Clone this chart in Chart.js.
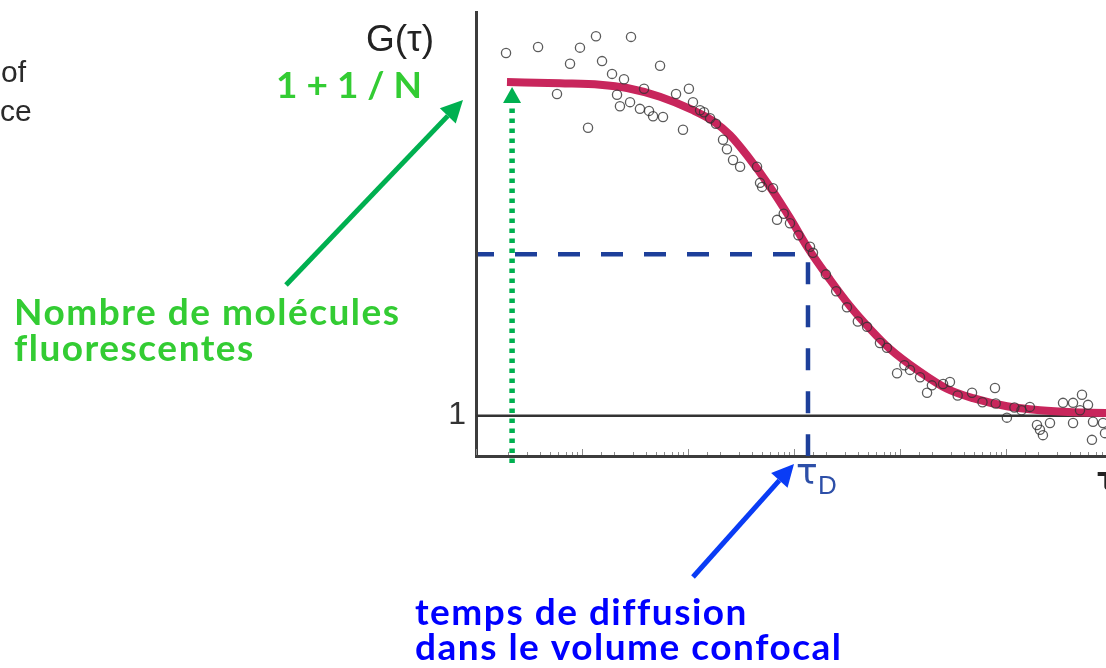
<!DOCTYPE html>
<html>
<head>
<meta charset="utf-8">
<script src="https://cdn.jsdelivr.net/npm/chart.js@4.4.1/dist/chart.umd.min.js"></script>
<style>
  html, body { margin: 0; padding: 0; background: #fff; overflow: hidden; width: 1106px; height: 668px; }
  canvas { display: block; }
</style>
</head>
<body>
<canvas id="fcs" width="1180" height="668"></canvas>
<script>
// Measured autocorrelation G(τ) (open circles)
const measTau = [
  1.92e-4, 3.85e-4, 9.57e-4, 1.355e-3, 2.90e-3, 7.71e-4, 1.545e-3, 5.45e-3, 1.92e-3, 2.49e-3,
  5.81e-4, 1.14e-3, 1.02e-2, 7.71e-3, 8.97e-3, 3.85e-3, 2.14e-3, 2.28e-3, 2.84e-3, 3.52e-3,
  4.29e-3, 4.68e-3, 5.81e-3, 1.114e-2, 1.30e-2, 1.416e-2, 1.615e-2, 1.835e-2, 2.14e-2, 2.33e-2,
  2.66e-2, 3.10e-2, 4.48e-2, 4.78e-2, 6.34e-2, 6.92e-2, 9.16e-2, 0.1416, 0.151, 0.316,
  0.489, 0.647, 0.753, 0.938, 1.243, 1.545, 1.80, 2.55, 2.96, 4.78,
  7.87, 10.2, 16.8, 19.6, 20.9, 22.3, 26.0, 34.5, 42.9, 52.1,
  59.4, 49.9, 42.9, 66.2, 64.7, 82.2, 85.9,
  0.05, 0.08, 0.11, 0.2, 0.25, 0.4, 1.1, 2.0, 3.5, 6.0, 8.0, 12.0, 14.0
];
const measG = [
  1.539, 1.548, 1.547, 1.564, 1.563, 1.523, 1.527, 1.520, 1.508, 1.500,
  1.478, 1.428, 1.486, 1.478, 1.425, 1.486, 1.477, 1.460, 1.466, 1.456,
  1.453, 1.445, 1.444, 1.466, 1.454, 1.451, 1.442, 1.434, 1.410, 1.396,
  1.380, 1.370, 1.370, 1.346, 1.338, 1.291, 1.286, 1.251, 1.242, 1.161,
  1.132, 1.108, 1.101, 1.063, 1.068, 1.057, 1.034, 1.047, 1.050, 1.034,
  1.041, 0.997, 1.013, 0.986, 0.979, 0.971, 0.989, 1.019, 1.019, 1.031,
  1.016, 1.008, 0.989, 0.991, 0.964, 0.989, 0.974,
  1.340, 1.300, 1.268, 1.210, 1.185, 1.140, 1.075, 1.045, 1.030, 1.020, 1.018, 1.012, 1.008
];

// Fitted autocorrelation curve
const fitTau = [
  1.96e-4, 6.20e-4, 1.479e-3, 2.66e-3, 5.44e-3, 1.114e-2, 1.72e-2, 2.49e-2, 3.60e-2, 5.94e-2,
  9.16e-2, 0.1355, 0.219, 0.337, 0.521, 0.805, 1.545, 2.77, 4.88, 10.2,
  20.9, 42.9, 87.8, 100
];
const fitG = [
  1.496, 1.494, 1.492, 1.487, 1.474, 1.454, 1.438, 1.417, 1.387, 1.340,
  1.294, 1.249, 1.202, 1.163, 1.129, 1.099, 1.065, 1.040, 1.026, 1.014,
  1.008, 1.005, 1.004, 1.004
];

// Characteristic values
const tauD = 0.1355;      // diffusion time through the confocal volume
const gHalf = 1.24;       // G(τD)
const tauStart = 2.19e-4; // first lag time
const gZero = 1.496;      // 1 + 1/N

// Axis settings
const xRange = [1e-4, 1e2];
const yRange = [0.94, 1.6];
const yTicks = [1];

function arrow(ctx, x1, y1, x2, y2, color, width, headLen, headHalf) {
  const ang = Math.atan2(y2 - y1, x2 - x1);
  const bx = x2 - headLen * Math.cos(ang), by = y2 - headLen * Math.sin(ang);
  ctx.save();
  ctx.strokeStyle = color; ctx.fillStyle = color; ctx.lineWidth = width;
  ctx.beginPath(); ctx.moveTo(x1, y1); ctx.lineTo(bx, by); ctx.stroke();
  ctx.beginPath();
  ctx.moveTo(x2, y2);
  ctx.lineTo(bx + headHalf * Math.sin(ang), by - headHalf * Math.cos(ang));
  ctx.lineTo(bx - headHalf * Math.sin(ang), by + headHalf * Math.cos(ang));
  ctx.closePath(); ctx.fill();
  ctx.restore();
}

const annotations = {
  id: 'annotations',
  beforeDatasetsDraw(chart) {
    const { ctx, chartArea: a, scales: { x, y } } = chart;
    ctx.save();
    // small inward tick marks on the lag-time axis
    ctx.strokeStyle = '#8c8c8c';
    ctx.lineWidth = 1;
    x.ticks.forEach(t => {
      const px = Math.round(x.getPixelForValue(t.value)) + 0.5;
      const len = t.major ? 7 : 4;
      ctx.beginPath(); ctx.moveTo(px, a.bottom - 1); ctx.lineTo(px, a.bottom - len); ctx.stroke();
    });
    // dashed guides through (τD, G(τD))
    const xd = x.getPixelForValue(tauD), yh = y.getPixelForValue(gHalf);
    ctx.strokeStyle = '#1d3f9a';
    ctx.lineWidth = 4.5;
    ctx.setLineDash([22, 21]);
    ctx.lineDashOffset = 6;
    ctx.beginPath(); ctx.moveTo(a.left + 2, yh); ctx.lineTo(xd, yh); ctx.lineTo(xd, a.bottom); ctx.stroke();
    // dotted marker at the first lag time
    const xs = x.getPixelForValue(tauStart), ytop = y.getPixelForValue(gZero) + 5;
    ctx.strokeStyle = '#00b050';
    ctx.lineWidth = 5.5;
    ctx.setLineDash([4.5, 5.5]);
    ctx.lineDashOffset = 0;
    ctx.beginPath(); ctx.moveTo(xs, a.bottom + 7); ctx.lineTo(xs, ytop + 16); ctx.stroke();
    ctx.setLineDash([]);
    ctx.fillStyle = '#00b050';
    ctx.beginPath(); ctx.moveTo(xs, ytop); ctx.lineTo(xs - 9, ytop + 16); ctx.lineTo(xs + 9, ytop + 16); ctx.closePath(); ctx.fill();
    ctx.restore();
  },
  afterDraw(chart) {
    const { ctx, scales: { x } } = chart;
    ctx.save();
    ctx.textBaseline = 'alphabetic';
    ctx.textAlign = 'left';
    // axis titles
    ctx.fillStyle = '#222';
    ctx.font = '37px "Liberation Sans", Arial, sans-serif';
    ctx.fillText('G(τ)', 366, 51);
    ctx.font = 'bold 32px "DejaVu Sans", sans-serif';
    ctx.fillText('τ', 1097, 490);
    // τD label
    const xd = x.getPixelForValue(tauD);
    ctx.fillStyle = '#2d4fa8';
    ctx.font = '36px "DejaVu Sans", sans-serif';
    ctx.fillText('τ', xd - 12, 484);
    ctx.font = '26px "Liberation Sans", Arial, sans-serif';
    ctx.fillText('D', xd + 10, 494);
    // fragments of neighbouring text
    ctx.fillStyle = '#2a2a2a';
    ctx.font = '30px "Liberation Sans", Arial, sans-serif';
    ctx.fillText('of', 1, 82);
    ctx.fillText('ce', 0, 121);
    // annotations
    ctx.fillStyle = '#33cc33';
    ctx.font = 'bold 37px Lato, sans-serif';
    ctx.fillText('1 + 1 / N', 276, 98);
    ctx.letterSpacing = '1.5px';
    ctx.fillText('Nombre de molécules', 14, 325);
    ctx.fillText('fluorescentes', 14, 361);
    ctx.fillStyle = '#0000ff';
    ctx.fillText('temps de diffusion', 415, 625);
    ctx.fillText('dans le volume confocal', 415, 660);
    ctx.letterSpacing = '0px';
    ctx.restore();
    arrow(ctx, 286, 285, 463, 100, '#00b050', 5, 22, 11);
    arrow(ctx, 693, 577, 794, 464, '#0a3cf5', 5, 22, 11);
  }
};

new Chart(document.getElementById('fcs'), {
  type: 'scatter',
  data: {
    datasets: [
      {
        label: 'G(τ) mesuré',
        data: measTau.map((t, i) => ({ x: t, y: measG[i] })),
        pointRadius: 4.6,
        pointBorderWidth: 1.3,
        pointBorderColor: 'rgba(50,50,50,0.8)',
        pointBackgroundColor: 'rgba(0,0,0,0)',
        showLine: false,
        order: 0
      },
      {
        label: 'ajustement',
        data: fitTau.map((t, i) => ({ x: t, y: fitG[i] })),
        showLine: true,
        pointRadius: 0,
        borderColor: '#c8265c',
        borderWidth: 8,
        cubicInterpolationMode: 'monotone',
        order: 1
      },
      {
        label: 'G = 1',
        data: [{ x: xRange[0], y: 1 }, { x: xRange[1], y: 1 }],
        showLine: true,
        pointRadius: 0,
        borderColor: '#333',
        borderWidth: 2.5,
        order: 2
      }
    ]
  },
  options: {
    responsive: false,
    animation: false,
    devicePixelRatio: 1,
    layout: { padding: { left: 416, top: 12, right: 68, bottom: 202 } },
    plugins: { legend: { display: false }, tooltip: { enabled: false } },
    scales: {
      x: {
        type: 'logarithmic',
        min: xRange[0], max: xRange[1],
        grid: { display: false, drawTicks: false },
        border: { color: '#3c3c3c', width: 3 },
        ticks: { display: false },
        afterFit(s) { s.height = 10; s.paddingLeft = 0; s.paddingRight = 0; }
      },
      y: {
        type: 'linear',
        min: yRange[0], max: yRange[1],
        grid: { display: false, drawTicks: false },
        border: { color: '#3c3c3c', width: 3 },
        afterBuildTicks(s) { s.ticks = yTicks.map(v => ({ value: v })); },
        ticks: { font: { family: '"Liberation Sans", Arial, sans-serif', size: 32 }, color: '#333', padding: 10 },
        afterFit(s) { s.width = 60; s.paddingTop = 0; s.paddingBottom = 0; }
      }
    }
  },
  plugins: [annotations]
});
</script>
</body>
</html>
